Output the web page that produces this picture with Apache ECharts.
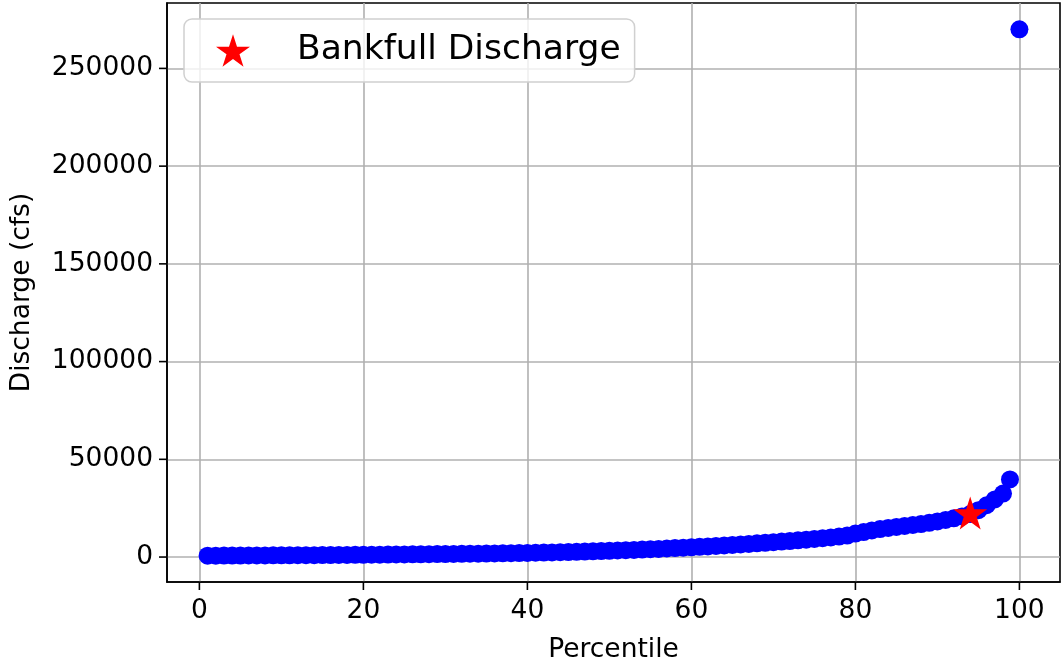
<!DOCTYPE html>
<html>
<head>
<meta charset="utf-8">
<script src="https://cdn.jsdelivr.net/npm/echarts@6/dist/echarts.min.js"></script>
<style>
html,body{margin:0;padding:0;background:#fff;}
#c{width:1061px;height:665px;}
</style>
</head>
<body>
<div id="c"></div>
<script>
// Percentile positions of the discharge observations
const percentiles = [
  1,2,3,4,5,6,7,8,9,10,
  11,12,13,14,15,16,17,18,19,20,
  21,22,23,24,25,26,27,28,29,30,
  31,32,33,34,35,36,37,38,39,40,
  41,42,43,44,45,46,47,48,49,50,
  51,52,53,54,55,56,57,58,59,60,
  61,62,63,64,65,66,67,68,69,70,
  71,72,73,74,75,76,77,78,79,80,
  81,82,83,84,85,86,87,88,89,90,
  91,92,93,94,95,96,97,98,98.85,100
];
// Discharge (cfs) values
const discharge = [
  700,720,740,760,780,800,820,840,860,880,
  900,920,950,980,1000,1030,1060,1090,1120,1150,
  1180,1220,1260,1300,1340,1380,1420,1460,1500,1550,
  1600,1650,1700,1750,1800,1860,1920,1980,2050,2120,
  2200,2280,2370,2460,2560,2670,2790,2920,3060,3200,
  3350,3500,3660,3830,4000,4180,4370,4570,4780,5000,
  5230,5460,5700,5940,6190,6450,6720,7000,7300,7600,
  7900,8200,8550,8900,9250,9650,10050,10500,11000,12000,
  12800,13600,14300,14900,15400,15900,16400,16900,17500,18200,
  19000,19800,20800,22000,24000,26500,29500,32500,39700,270000
];
// Bankfull discharge marker
const bankfullPercentile = 94;
const bankfullDischarge = 22500;
const bankfullName = 'Bankfull Discharge';

const xTicks = [0,20,40,60,80,100];
const yTicks = [0,50000,100000,150000,200000,250000];

const starPath = 'path://M0,-1 L0.2245,-0.309 L0.9511,-0.309 L0.3633,0.118 L0.5878,0.809 L0,0.382 L-0.5878,0.809 L-0.3633,0.118 L-0.9511,-0.309 L-0.2245,-0.309 Z';

const pts = percentiles.map((p, i) => [p, discharge[i]]);

// matplotlib-like 5% margins
const xMin = Math.min(...percentiles), xMax = Math.max(...percentiles);
const yMin = Math.min(...discharge), yMax = Math.max(...discharge);
const xPad = (xMax - xMin) * 0.05, yPad = (yMax - yMin) * 0.05;

const chart = echarts.init(document.getElementById('c'));
const font = 'DejaVu Sans';
const FS = 26.5;
chart.setOption({
  animation: false,
  textStyle: {fontFamily: font},
  grid: {
    left: 167, right: 1, top: 3, bottom: 83,
    show: true, borderColor: '#000', borderWidth: 1.6, backgroundColor: 'transparent',
    containLabel: false,
    outerBoundsMode: 'none'
  },
  legend: {
    data: [{name: bankfullName, icon: starPath}],
    left: 184, top: 19,
    orient: 'vertical',
    itemWidth: 34, itemHeight: 33,
    padding: [14, 14, 14, 32],
    backgroundColor: 'rgba(255,255,255,0.8)',
    borderColor: '#d0d0d0', borderWidth: 1.5, borderRadius: 8,
    textStyle: {fontFamily: font, fontSize: 34.5, color: '#000', padding: [0, 0, 0, 42]},
    selectedMode: false
  },
  xAxis: {
    type: 'value',
    min: xMin - xPad, max: xMax + xPad,
    name: 'Percentile', nameLocation: 'middle', nameGap: 55,
    nameTextStyle: {fontFamily: font, fontSize: FS, color: '#000'},
    axisLine: {show: true, onZero: false, lineStyle: {color: '#000', width: 1.6}},
    axisTick: {show: false, customValues: xTicks},
    axisLabel: {customValues: xTicks, fontFamily: font, fontSize: FS, color: '#000', margin: 16, formatter: v => String(v)},
    splitLine: {show: true, lineStyle: {color: '#b0b0b0', width: 1.6}}
  },
  yAxis: {
    type: 'value',
    min: yMin - yPad, max: yMax + yPad,
    name: 'Discharge (cfs)', nameLocation: 'middle', nameGap: 131,
    nameTextStyle: {fontFamily: font, fontSize: FS, color: '#000'},
    axisLine: {show: true, onZero: false, lineStyle: {color: '#000', width: 1.6}},
    axisTick: {show: false, customValues: yTicks},
    axisLabel: {customValues: yTicks, fontFamily: font, fontSize: FS, color: '#000', margin: 14, formatter: v => String(v)},
    splitLine: {show: true, lineStyle: {color: '#b0b0b0', width: 1.6}}
  },
  series: [
    {
      type: 'scatter',
      name: 'Discharge',
      data: pts,
      symbol: 'circle',
      symbolSize: 18,
      itemStyle: {color: '#0000ff', opacity: 1},
      z: 2
    },
    {
      type: 'scatter',
      name: bankfullName,
      data: [[bankfullPercentile, bankfullDischarge]],
      symbol: starPath,
      symbolSize: [34, 33],
      itemStyle: {color: '#ff0000', opacity: 1},
      z: 3
    }
  ]
});

// Outward tick marks positioned through the chart's own axis scales
const rect = chart.getModel().getComponent('grid', 0).coordinateSystem.getRect();
const tickLen = 8;
const tickStyle = {stroke: '#000', lineWidth: 1.6};
const tickEls = [];
xTicks.forEach(v => {
  const px = chart.convertToPixel({xAxisIndex: 0}, v);
  const yb = rect.y + rect.height;
  tickEls.push({type: 'line', silent: true, z: 10, shape: {x1: px, y1: yb, x2: px, y2: yb + tickLen}, style: tickStyle});
});
yTicks.forEach(v => {
  const py = chart.convertToPixel({yAxisIndex: 0}, v);
  const xl = rect.x;
  tickEls.push({type: 'line', silent: true, z: 10, shape: {x1: xl - tickLen, y1: py, x2: xl, y2: py}, style: tickStyle});
});
chart.setOption({graphic: tickEls});
</script>
</body>
</html>
